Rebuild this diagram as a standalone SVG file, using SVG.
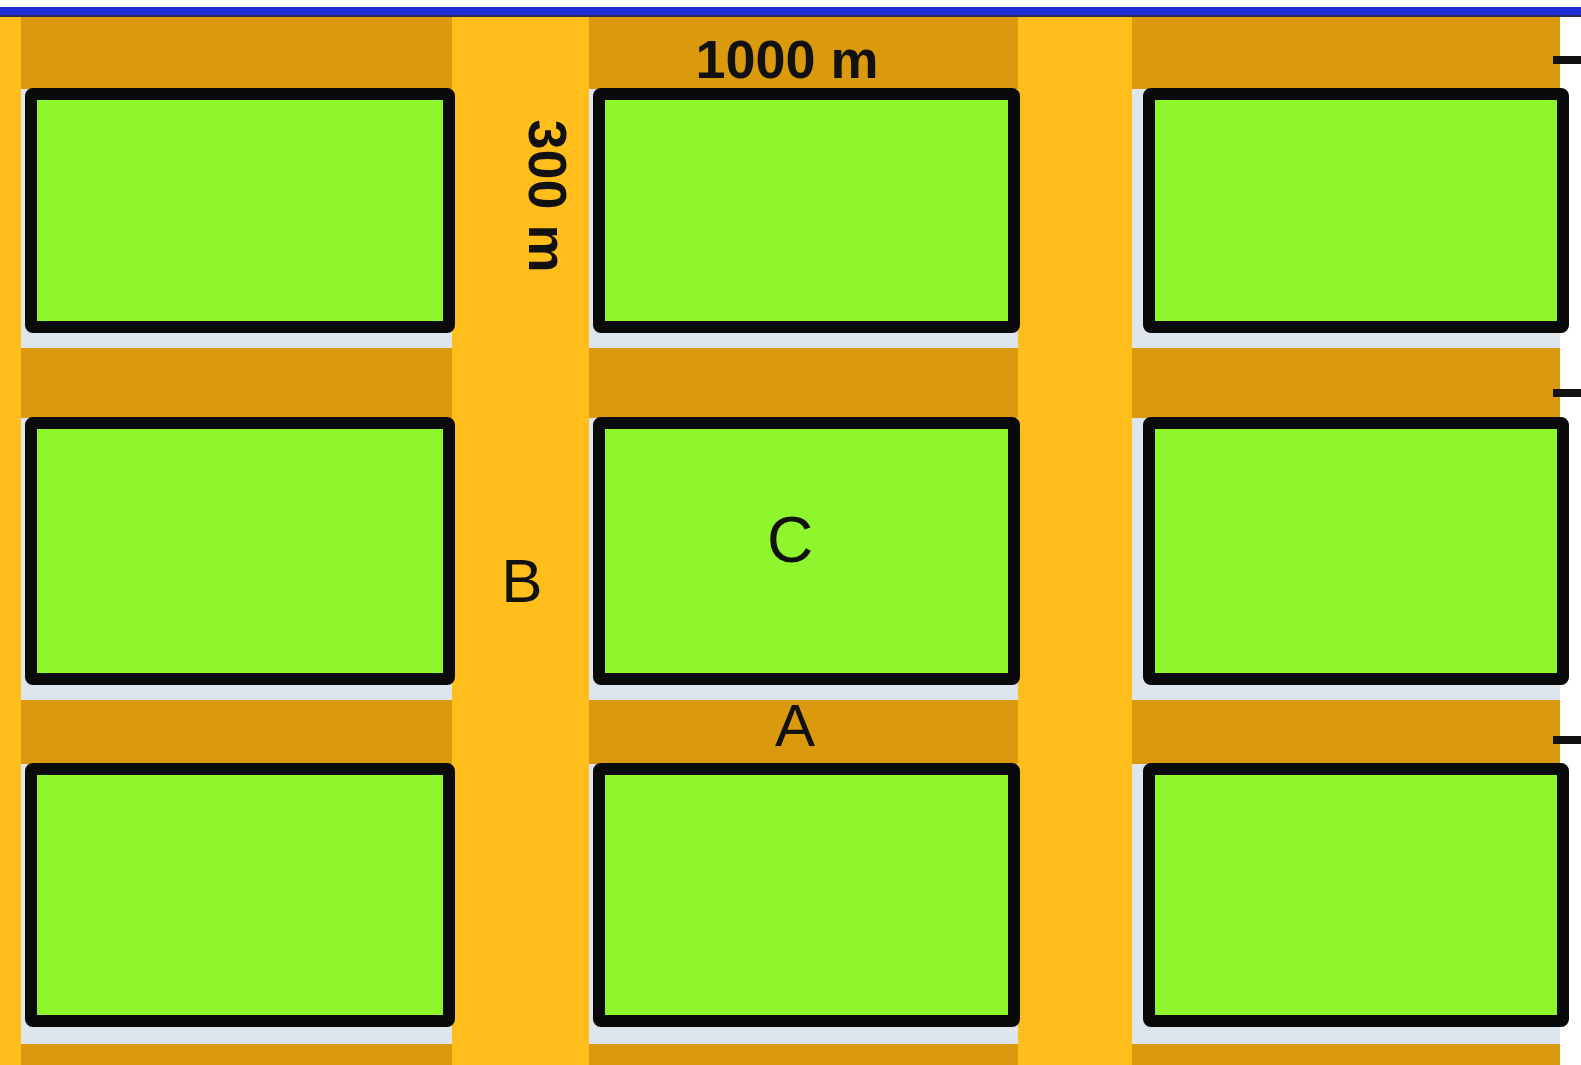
<svg xmlns="http://www.w3.org/2000/svg" width="1581" height="1065" viewBox="0 0 1581 1065">
<style>
.gap{fill:#DCE6EC}
.band{fill:#DB9A0E}
.road{fill:#FFBE1C}
.blk{fill:#8FF52C;stroke:#0A0A0A;stroke-width:12;stroke-linejoin:round}
.dim{font-family:"Liberation Sans",Arial,sans-serif;font-weight:bold;font-size:54px;fill:#111}
.lbl{font-family:"Liberation Sans",Arial,sans-serif;fill:#111}
.tick{fill:#111}
</style>
<rect x="0" y="0" width="1581" height="1065" fill="#FFFFFF"/>
<rect x="0" y="7" width="1581" height="9" fill="#1E2FD6"/>
<rect x="0" y="15" width="1581" height="2" fill="#2A2A55"/>
<g id="ground">
<rect class="gap" x="21" y="17" width="1539" height="1048"/>
<rect class="band" x="0" y="17" width="1560" height="72"/>
<rect class="band" x="0" y="348" width="1560" height="70"/>
<rect class="band" x="0" y="700" width="1560" height="64"/>
<rect class="band" x="0" y="1044" width="1560" height="21"/>
<rect class="road" x="0" y="17" width="21" height="1048"/>
<rect class="road" x="452" y="17" width="137" height="1048"/>
<rect class="road" x="1018" y="17" width="114" height="1048"/>
</g>
<g id="block-r1c1"><rect class="blk" x="31" y="94" width="418" height="233" rx="2"/></g>
<g id="block-r1c2"><rect class="blk" x="599" y="94" width="415" height="233" rx="2"/></g>
<g id="block-r1c3"><rect class="blk" x="1149" y="94" width="414" height="233" rx="2"/></g>
<g id="block-r2c1"><rect class="blk" x="31" y="423" width="418" height="256" rx="2"/></g>
<g id="block-r2c2"><rect class="blk" x="599" y="423" width="415" height="256" rx="2"/>
<text class="lbl" x="790" y="562" font-size="64" text-anchor="middle">C</text></g>
<g id="block-r2c3"><rect class="blk" x="1149" y="423" width="414" height="256" rx="2"/></g>
<g id="block-r3c1"><rect class="blk" x="31" y="769" width="418" height="252" rx="2"/></g>
<g id="block-r3c2"><rect class="blk" x="599" y="769" width="415" height="252" rx="2"/></g>
<g id="block-r3c3"><rect class="blk" x="1149" y="769" width="414" height="252" rx="2"/></g>
<g id="labels">
<text class="dim" x="787" y="78" text-anchor="middle">1000 m</text>
<text class="dim" transform="translate(529,196) rotate(90)" x="0" y="0" text-anchor="middle">300 m</text>
<text class="lbl" x="522" y="602" font-size="62" text-anchor="middle">B</text>
<text class="lbl" x="795" y="746" font-size="60" text-anchor="middle">A</text>
</g>
<g id="ticks">
<rect class="tick" x="1553" y="56" width="28" height="8"/>
<rect class="tick" x="1553" y="389" width="28" height="8"/>
<rect class="tick" x="1553" y="736" width="28" height="8"/>
</g>
</svg>
